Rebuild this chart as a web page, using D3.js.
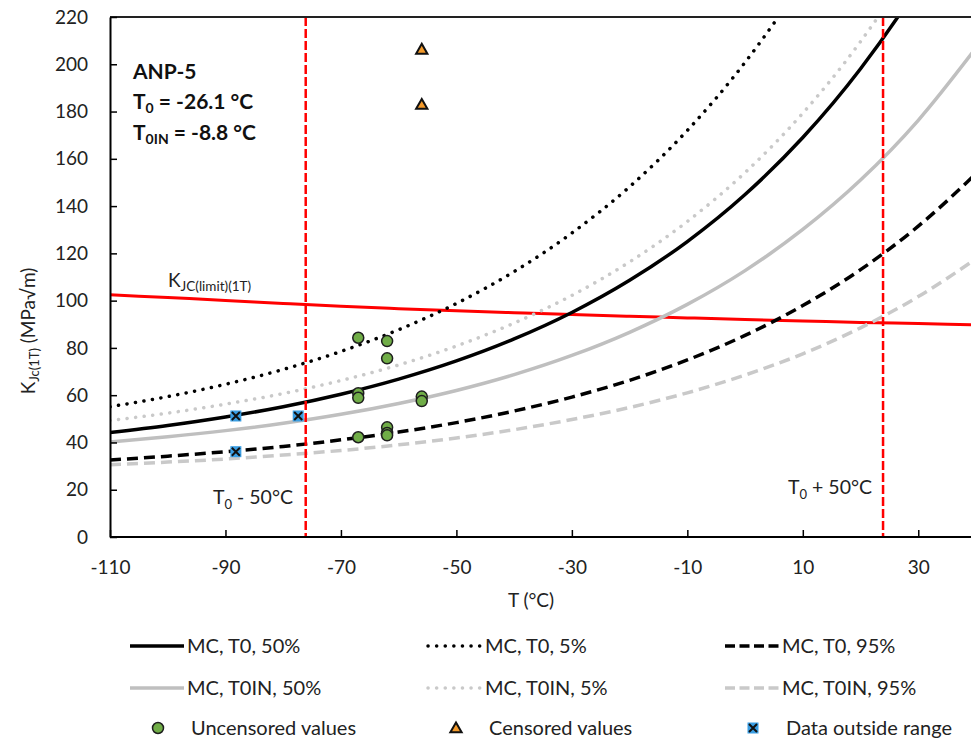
<!DOCTYPE html>
<html>
<head>
<meta charset="utf-8">
<script src="https://cdn.jsdelivr.net/npm/d3@7"></script>
<style>
  body { margin: 0; background: #fff; }
  svg { display: block; font-family: Lato, "Open Sans", sans-serif; }
</style>
</head>
<body>
<div id="chart"></div>
<script>
const temps = [-110, -100, -90, -80, -70, -60, -50, -40, -30, -20, -10, 0, 10, 20, 30, 40];

// master curves for T0 = -26.1
const mcT0Med   = [44.2, 47.2, 50.8, 55.1, 60.4, 66.8, 74.5, 83.8, 95.0, 108.6, 125.0, 144.9, 169.0, 198.1, 233.2, 275.8];
const mcT0Dot   = [55.1, 59.4, 64.6, 70.9, 78.5, 87.7, 98.8, 112.3, 128.6, 148.2, 172.0, 200.8, 235.6, 277.7, 328.6, 390.2];
const mcT0Dash  = [32.6, 34.2, 36.1, 38.3, 41.1, 44.4, 48.4, 53.3, 59.2, 66.3, 74.9, 85.3, 97.9, 113.1, 131.5, 153.7];

// master curves for T0IN = -8.8
const mcT0inMed  = [40.2, 42.4, 45.0, 48.1, 51.9, 56.5, 62.0, 68.7, 76.8, 86.6, 98.4, 112.7, 130.1, 151.0, 176.3, 206.9];
const mcT0inDot  = [49.3, 52.4, 56.2, 60.7, 66.2, 72.8, 80.8, 90.5, 102.2, 116.4, 133.5, 154.2, 179.3, 209.6, 246.2, 290.5];
const mcT0inDash = [30.6, 31.7, 33.0, 34.7, 36.6, 39.0, 41.9, 45.4, 49.7, 54.8, 61.0, 68.5, 77.5, 88.5, 101.7, 117.7];

// K_JC(limit)(1T)
const kLimit = [102.5, 101.3, 100.1, 98.8, 97.6, 96.6, 95.7, 94.9, 94.1, 93.4, 92.7, 92.0, 91.4, 90.8, 90.3, 89.8];

// test results
const uncensored = [
  { t: -67, k: 84.3 }, { t: -67, k: 60.8 }, { t: -67, k: 58.9 }, { t: -67, k: 42.2 },
  { t: -62, k: 82.9 }, { t: -62, k: 75.6 }, { t: -62, k: 46.4 }, { t: -62, k: 44.0 }, { t: -62, k: 43.0 },
  { t: -56, k: 59.4 }, { t: -56, k: 57.5 }
];
const censored = [{ t: -56, k: 206.3 }, { t: -56, k: 183.0 }];
const outside = [{ t: -88.2, k: 51.2 }, { t: -88.2, k: 36.1 }, { t: -77.4, k: 51.2 }];

const xTicks = [-110, -90, -70, -50, -30, -10, 10, 30];
const yTicks = [0, 20, 40, 60, 80, 100, 120, 140, 160, 180, 200, 220];
const refTemps = [-76.1, 23.9];

const width = 971, height = 742;
const margin = { top: 17, left: 110, bottom: 205 };

const x = d3.scaleLinear().domain([-110, 40]).range([margin.left, 976]);
const y = d3.scaleLinear().domain([0, 220]).range([height - margin.bottom, margin.top]);

const svg = d3.select('#chart').append('svg')
  .attr('width', width)
  .attr('height', height);

svg.append('defs').append('clipPath').attr('id', 'plot-clip')
  .append('rect')
    .attr('x', x(-110)).attr('y', y(220))
    .attr('width', width - x(-110)).attr('height', y(0) - y(220));

// line styles
const series = [
  { key: 'mcT0Med', label: 'MC, T0, 50%', values: mcT0Med, color: '#000', dash: null, cap: 'butt' },
  { key: 'mcT0Dot', label: 'MC, T0, 5%', values: mcT0Dot, color: '#000', dash: '0.1,8.5', cap: 'round' },
  { key: 'mcT0Dash', label: 'MC, T0, 95%', values: mcT0Dash, color: '#000', dash: '11,6', cap: 'butt' },
  { key: 'mcT0inMed', label: 'MC, T0IN, 50%', values: mcT0inMed, color: '#bfbfbf', dash: null, cap: 'butt' },
  { key: 'mcT0inDot', label: 'MC, T0IN, 5%', values: mcT0inDot, color: '#c9c9c9', dash: '0.1,8.5', cap: 'round' },
  { key: 'mcT0inDash', label: 'MC, T0IN, 95%', values: mcT0inDash, color: '#c9c9c9', dash: '11,6', cap: 'butt' }
];

const line = d3.line()
  .x(d => x(d.t))
  .y(d => y(d.k))
  .curve(d3.curveMonotoneX);

const plot = svg.append('g').attr('clip-path', 'url(#plot-clip)');

// red limit line
plot.append('path')
  .attr('d', line(temps.map((t, i) => ({ t, k: kLimit[i] }))))
  .attr('fill', 'none')
  .attr('stroke', '#ff0000')
  .attr('stroke-width', 3);

// master curves, grey first so black sits on top
const drawOrder = [3, 4, 5, 0, 1, 2];
plot.selectAll('.mc')
  .data(drawOrder.map(i => series[i]))
  .join('path')
    .attr('class', 'mc')
    .attr('d', s => line(temps.map((t, i) => ({ t, k: s.values[i] }))))
    .attr('fill', 'none')
    .attr('stroke', s => s.color)
    .attr('stroke-width', 3.5)
    .attr('stroke-linecap', s => s.cap)
    .attr('stroke-dasharray', s => s.dash);

// T0 +/- 50 lines
plot.selectAll('.ref')
  .data(refTemps)
  .join('line')
    .attr('class', 'ref')
    .attr('x1', d => x(d)).attr('x2', d => x(d))
    .attr('y1', y(220)).attr('y2', y(0))
    .attr('stroke', '#ff0000')
    .attr('stroke-width', 2.5)
    .attr('stroke-dasharray', '9,3');

// markers
const triangle = d3.symbol().type(d3.symbolTriangle).size(55);

function drawCircle(g, cx, cy) {
  g.append('circle')
    .attr('cx', cx).attr('cy', cy).attr('r', 5.5)
    .attr('fill', '#70ad47')
    .attr('stroke', '#1e1e1e')
    .attr('stroke-width', 1.5);
}
function drawTriangle(g, cx, cy) {
  g.append('path')
    .attr('d', triangle())
    .attr('transform', `translate(${cx},${cy + 1})`)
    .attr('fill', '#f39a2b')
    .attr('stroke', '#111')
    .attr('stroke-width', 2);
}
function drawCross(g, cx, cy) {
  g.append('rect')
    .attr('x', cx - 5.5).attr('y', cy - 5.5)
    .attr('width', 11).attr('height', 11)
    .attr('fill', '#3a9ee3');
  g.append('path')
    .attr('d', `M${cx - 4},${cy - 4}L${cx + 4},${cy + 4}M${cx - 4},${cy + 4}L${cx + 4},${cy - 4}`)
    .attr('stroke', '#111')
    .attr('stroke-width', 2);
}

const marks = svg.append('g');
uncensored.forEach(d => drawCircle(marks, x(d.t), y(d.k)));
censored.forEach(d => drawTriangle(marks, x(d.t), y(d.k)));
outside.forEach(d => drawCross(marks, x(d.t), y(d.k)));

// axes
svg.append('line')
  .attr('x1', x(-110)).attr('x2', width)
  .attr('y1', y(220)).attr('y2', y(220))
  .attr('stroke', '#222').attr('stroke-width', 2);

const xAxis = svg.append('g')
  .attr('transform', `translate(0,${y(0)})`)
  .call(d3.axisBottom(x).tickValues(xTicks).tickFormat(d => String(d))
    .tickSizeInner(-7).tickSizeOuter(0).tickPadding(24));
xAxis.select('.domain').attr('d', `M${x(-110)},0H${width}`).attr('stroke', '#000').attr('stroke-width', 2);
xAxis.selectAll('.tick line').attr('stroke-width', 1.5);
xAxis.selectAll('text').attr('font-size', 19).attr('fill', '#222').attr('font-family', 'Lato');

const yAxis = svg.append('g')
  .attr('transform', `translate(${x(-110)},0)`)
  .call(d3.axisLeft(y).tickValues(yTicks).tickFormat(d => String(d))
    .tickSizeInner(-7).tickSizeOuter(0).tickPadding(22));
yAxis.select('.domain').attr('stroke', '#000').attr('stroke-width', 2);
yAxis.selectAll('.tick line').attr('stroke-width', 1.5);
yAxis.selectAll('text').attr('font-size', 19).attr('fill', '#222').attr('font-family', 'Lato');

// axis titles
svg.append('text')
  .attr('x', 531).attr('y', 607)
  .attr('text-anchor', 'middle')
  .attr('font-size', 19).attr('fill', '#222')
  .text('T (°C)');

const yTitle = svg.append('text')
  .attr('transform', 'translate(35,331) rotate(-90)')
  .attr('text-anchor', 'middle')
  .attr('font-size', 19).attr('fill', '#222');
yTitle.append('tspan').text('K');
yTitle.append('tspan').attr('font-size', 13).attr('dy', 4).text('Jc(1T)');
yTitle.append('tspan').attr('dy', -4).text(' (MPa√m)');

// annotations
const info = svg.append('g').attr('font-weight', 'bold').attr('font-size', 21).attr('fill', '#111');
info.append('text').attr('x', 133).attr('y', 79).text('ANP-5');
const t0 = info.append('text').attr('x', 133).attr('y', 109);
t0.append('tspan').text('T');
t0.append('tspan').attr('font-size', 14).attr('dy', 4).text('0');
t0.append('tspan').attr('dy', -4).text(' = -26.1 °C');
const t0in = info.append('text').attr('x', 133).attr('y', 140);
t0in.append('tspan').text('T');
t0in.append('tspan').attr('font-size', 14).attr('dy', 4).text('0IN');
t0in.append('tspan').attr('dy', -4).text(' = -8.8 °C');

const kl = svg.append('text').attr('x', 168).attr('y', 287).attr('font-size', 19).attr('fill', '#222');
kl.append('tspan').text('K');
kl.append('tspan').attr('font-size', 13.5).attr('dy', 4).text('JC(limit)(1T)');

const refLabels = [
  { x: 213, y: 504, sign: ' - 50°C' },
  { x: 788, y: 494, sign: ' + 50°C' }
];
refLabels.forEach(r => {
  const t = svg.append('text').attr('x', r.x).attr('y', r.y).attr('font-size', 19.5).attr('fill', '#222');
  t.append('tspan').text('T');
  t.append('tspan').attr('font-size', 13).attr('dy', 5).text('0');
  t.append('tspan').attr('dy', -5).text(r.sign);
});

// legend
const legCols = [130, 428, 725];
const legRows = [646, 688, 728];
const legend = svg.append('g').attr('font-size', 20).attr('fill', '#222');
series.forEach((s, i) => {
  const lx = legCols[i % 3], ly = legRows[Math.floor(i / 3)];
  legend.append('line')
    .attr('x1', lx).attr('x2', lx + 54)
    .attr('y1', ly).attr('y2', ly)
    .attr('stroke', s.color)
    .attr('stroke-width', 3.5)
    .attr('stroke-linecap', s.cap)
    .attr('stroke-dasharray', s.key.includes('Dash') ? '10,4.5' : s.dash);
  legend.append('text')
    .attr('x', lx + 57).attr('y', ly + 7)
    .text(s.label);
});
const markerLegend = [
  { label: 'Uncensored values', draw: drawCircle },
  { label: 'Censored values', draw: drawTriangle },
  { label: 'Data outside range', draw: drawCross }
];
markerLegend.forEach((m, i) => {
  const lx = legCols[i], ly = legRows[2];
  m.draw(legend, lx + 28, ly);
  legend.append('text').attr('x', lx + 61).attr('y', ly + 7).text(m.label);
});
</script>
</body>
</html>
